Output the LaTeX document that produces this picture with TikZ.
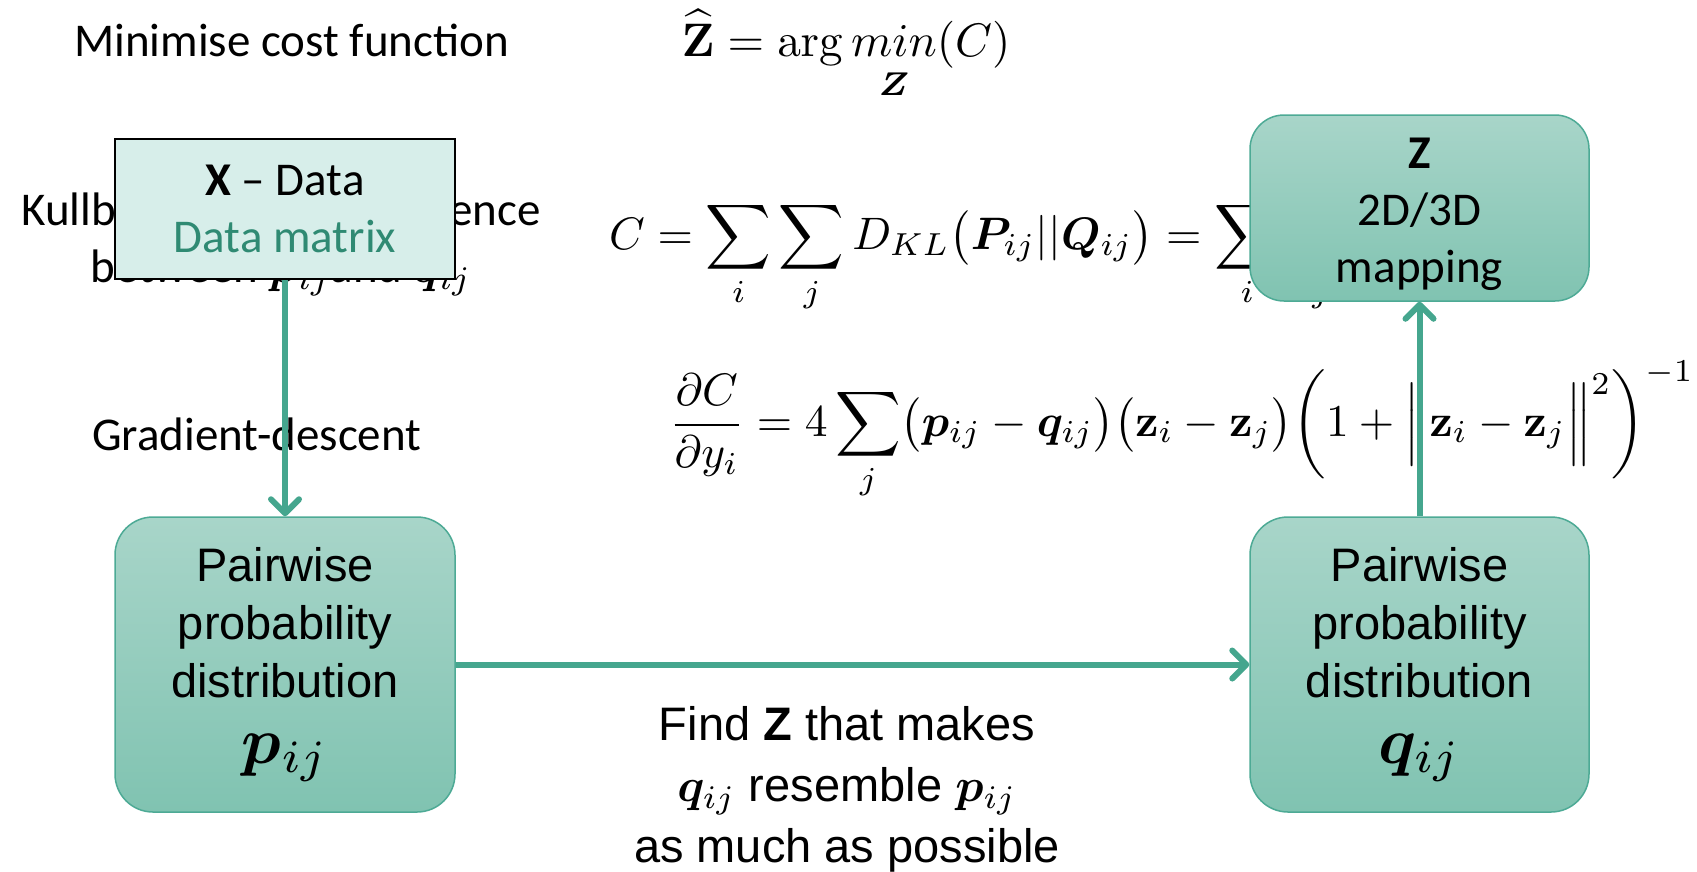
\documentclass[tikz,border=0pt]{standalone}
\usepackage{graphicx}
\usepackage{amsmath,bm}
\usepackage[no-math]{fontspec}
\setmainfont{Carlito}
\newfontfamily\arialf{Liberation Sans}
\usetikzlibrary{arrows.meta}
\definecolor{boxtop}{HTML}{A8D5C9}
\definecolor{boxbot}{HTML}{80C3B1}
\definecolor{boxline}{HTML}{4DAA95}
\definecolor{arrowc}{HTML}{45A68E}
\definecolor{datafill}{HTML}{D7EEEA}
\definecolor{datatext}{HTML}{2F8A73}
\newcommand{\bmath}[2]{\scalebox{#1}{$\displaystyle #2$}}
\newcommand{\smath}[2]{{\fontsize{10}{12}\selectfont\scalebox{#1}{$#2$}}}
\tikzset{
  pbox/.style={draw=boxline, line width=1.5pt, rounded corners=38pt,
    top color=boxtop, bottom color=boxbot, align=center, inner sep=0pt},
  conn/.style={draw=arrowc, line width=6pt,
    -{Straight Barb[length=14pt,width=28pt,line cap=round,line join=round]}},
  calib/.style={font=\fontsize{47}{57}\selectfont},
  arialtxt/.style={font=\arialf\fontsize{47}{58}\selectfont},
  eq/.style={inner sep=0pt, font=\fontsize{10}{12}\selectfont},
}
\begin{document}
\begin{tikzpicture}[x=1pt,y=-1pt]
\useasboundingbox (0,0) rectangle (1697,871);

\node[calib, anchor=base west, inner sep=0pt] (minim) at (74,56) {Minimise cost function};
\node[eq, anchor=base] (zhat) at (846,56) {\bmath{4.7}{\widehat{\mathbf{Z}} = \arg \underset{\bm{Z}}{min\vphantom{g}}(C)}};

\node[calib, align=center, inner sep=0pt, anchor=north] (kl) at (281,193) {Kullback-Leibler divergence\\between \smath{4.7}{\bm{p}_{ij}}and \smath{4.7}{\bm{q}_{ij}}};

\node[eq, anchor=base west] (ceq) at (609,249) {\bmath{4.55}{C = \sum_i\sum_j D_{KL}\big(\bm{P}_{ij}||\bm{Q}_{ij}\big) = \sum_i\sum_j p_{ij}\log\frac{p_{ij}}{q_{ij}}}};

\node[eq, anchor=base west] (geq) at (669,436) {\bmath{4.55}{\frac{\partial C}{\partial y_i} = 4\sum_j\!\big(\bm{p}_{ij}-\bm{q}_{ij}\big)\big(\mathbf{z}_i-\mathbf{z}_j\big)\bigg(1+\Big\|\mathbf{z}_i-\mathbf{z}_j\Big\|^2\bigg)^{-1}}};

\node[calib, anchor=base west, inner sep=0pt] (gd) at (92,450) {Gradient-descent};

\node[draw=black, line width=1.5pt, fill=datafill, minimum width=340pt, minimum height=140pt,
  align=center, calib, inner sep=0pt] (data) at (285,209) {\textbf{X} -- Data\\\textcolor{datatext}{Data matrix}};

\node[pbox, minimum width=339pt, minimum height=186pt, rounded corners=34pt] (zb) at (1419.5,208) {};
\node[calib, align=center, inner sep=0pt] (zbt) at (1419.5,214) {\textbf{Z}\\2D/3D\\mapping};

\node[pbox, minimum width=340pt, minimum height=295pt, arialtxt] (bl) at (285,664.5)
  {Pairwise\\probability\\distribution\\[8pt]\smath{6.6}{\bm{p}_{ij}}};
\node[pbox, minimum width=339pt, minimum height=295pt, arialtxt] (br) at (1419.5,664.5)
  {Pairwise\\probability\\distribution\\[8pt]\smath{6.6}{\bm{q}_{ij}}};

\node[align=center, inner sep=0pt, font=\arialf\fontsize{47}{61}\selectfont] (find) at (847,789)
  {Find \textbf{Z} that makes\\\smath{4.7}{\bm{q}_{ij}} resemble \smath{4.7}{\bm{p}_{ij}}\\as much as possible};

\draw[conn] (data.south) -- (bl.north);
\draw[conn] (bl.east) -- (br.west);
\draw[conn] (br.north) -- (zb.south);
\end{tikzpicture}
\end{document}
